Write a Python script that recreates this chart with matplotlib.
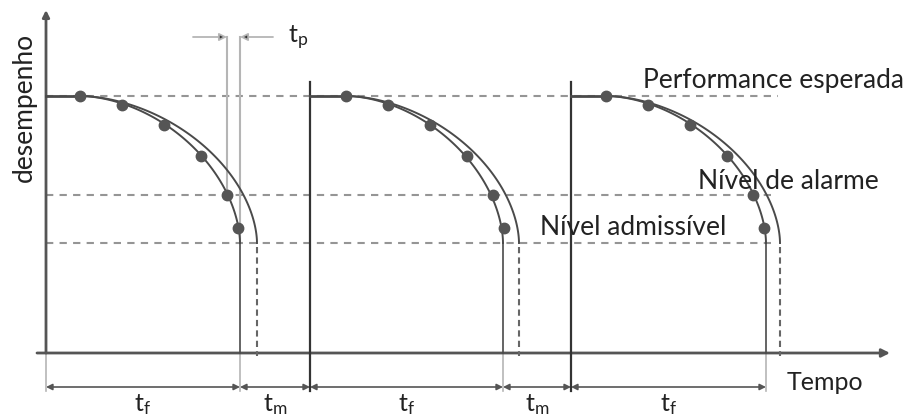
import numpy as np
import matplotlib.pyplot as plt

plt.rcParams['font.family'] = ['Lato', 'DejaVu Sans']

# níveis de desempenho (0 = eixo do tempo)
nivel_esperado = 257
nivel_alarme = 158
nivel_admissivel = 110

# ciclos: início, início da degradação, falha (curva interna), curva externa
inicio_ciclo = [0, 264, 525]
inicio_degrad = [34, 300, 560]
falha = [194, 457, 720]
falha_ext = [211, 473, 734]

# pontos de inspeção: deslocamento desde o início da degradação, desempenho
pontos_dt = [0, 42, 84, 121, 147, 158]
pontos_y = [257, 248, 228, 197, 158, 125]

# cotas inferiores
cota_ini = [0, 194, 264, 457, 525]
cota_fim = [194, 264, 457, 525, 720]
cota_txt = ['f', 'm', 'f', 'm', 'f']

escuro = '#4a4a4a'
cinza = '#959595'
claro = '#b5b5b5'


def curva(x0, x1, topo, base, n=1.8):
    th = np.linspace(0, np.pi / 2, 120)
    x = x0 + (x1 - x0) * np.sin(th) ** (2 / n)
    y = base + (topo - base) * np.cos(th) ** (2 / n)
    return x, y


fig = plt.figure(figsize=(9.09, 4.19), dpi=100)
ax = fig.add_axes([0, 0, 1, 1])
ax.set_xlim(-46, 863)
ax.set_ylim(-66, 353)
ax.axis('off')

# linhas de nível tracejadas
ax.plot([0, 732], [nivel_esperado] * 2, color=cinza, lw=1.5, dashes=(3.5, 3), zorder=1)
ax.plot([0, 727], [nivel_alarme] * 2, color=cinza, lw=1.5, dashes=(3.5, 3), zorder=1)
ax.plot([0, 729], [nivel_admissivel] * 2, color=cinza, lw=1.5, dashes=(3.5, 3), zorder=1)

# eixos
ax.annotate('', xy=(844, 0), xytext=(-9, 0),
            arrowprops=dict(arrowstyle='-|>', color='#555555', lw=2, mutation_scale=12,
                            shrinkA=0, shrinkB=0))
ax.annotate('', xy=(0, 343), xytext=(0, 0),
            arrowprops=dict(arrowstyle='-|>', color='#555555', lw=2, mutation_scale=10,
                            shrinkA=0, shrinkB=0))
ax.plot([0, 0], [0, -38], color=claro, lw=1.2)

for i in range(3):
    c0 = inicio_ciclo[i]
    d0 = inicio_degrad[i]
    # início de ciclo
    if i > 0:
        ax.plot([c0, c0], [271, -38], color='#333333', lw=1.6, zorder=3)
    ax.plot([c0, d0], [nivel_esperado] * 2, color=escuro, lw=2, zorder=3)
    # curva interna e queda
    x, y = curva(d0, falha[i], nivel_esperado, nivel_admissivel)
    ax.plot(x, y, color=escuro, lw=1.4, zorder=3)
    ax.plot([falha[i], falha[i]], [nivel_admissivel, 0], color=escuro, lw=1.2, zorder=3)
    ax.plot([falha[i], falha[i]], [0, -38], color=claro, lw=1.2)
    # curva externa
    x, y = curva(d0, falha_ext[i], nivel_esperado, nivel_admissivel)
    ax.plot(x, y, color=escuro, lw=1.4, zorder=3)
    ax.plot([falha_ext[i]] * 2, [nivel_admissivel - 4, -3], color='#666666', lw=1.5,
            dashes=(3, 2), zorder=3)
    # pontos
    ax.plot([d0 + p for p in pontos_dt], pontos_y, 'o', color='#555555', ms=7.5, zorder=4)

# t_p
x_alarme = inicio_degrad[0] + pontos_dt[4]
ax.plot([x_alarme, x_alarme], [nivel_alarme, 316], color=claro, lw=1.5)
ax.plot([falha[0], falha[0]], [nivel_admissivel, 316], color=claro, lw=1.5)
ax.annotate('', xy=(x_alarme, 316), xytext=(147, 316),
            arrowprops=dict(arrowstyle='-|>', lw=1.3, mutation_scale=11,
                            shrinkA=0, shrinkB=0, ec=claro, fc='#333333'))
ax.annotate('', xy=(falha[0], 316), xytext=(227, 316),
            arrowprops=dict(arrowstyle='-|>', lw=1.3, mutation_scale=11,
                            shrinkA=0, shrinkB=0, ec=claro, fc='#333333'))
ax.text(242, 310, r'$\mathregular{t_p}$', fontsize=18, ha='left', va='baseline', color='#222222')

# cotas
for a, b, s in zip(cota_ini, cota_fim, cota_txt):
    ax.annotate('', xy=(b, -34), xytext=(a, -34),
                arrowprops=dict(arrowstyle='<|-|>', color='#555555', lw=1.2, mutation_scale=9,
                                shrinkA=0, shrinkB=0))
    ax.text((a + b) / 2, -58, r'$\mathregular{t_%s}$' % s, fontsize=18, ha='center',
            va='baseline', color='#222222')

# textos
ax.text(597, 265, 'Performance esperada', fontsize=19, va='baseline', color='#222222')
ax.text(652, 164, 'Nível de alarme', fontsize=19, va='baseline', color='#222222')
ax.text(494, 118, 'Nível admissível', fontsize=19, va='baseline', color='#222222')
ax.text(741, -37, 'Tempo', fontsize=18, va='baseline', color='#222222')
ax.text(-22, 246, 'desempenho', fontsize=19, rotation=90, ha='center', va='center',
        color='#222222')

fig.savefig('out.png', dpi=100)
